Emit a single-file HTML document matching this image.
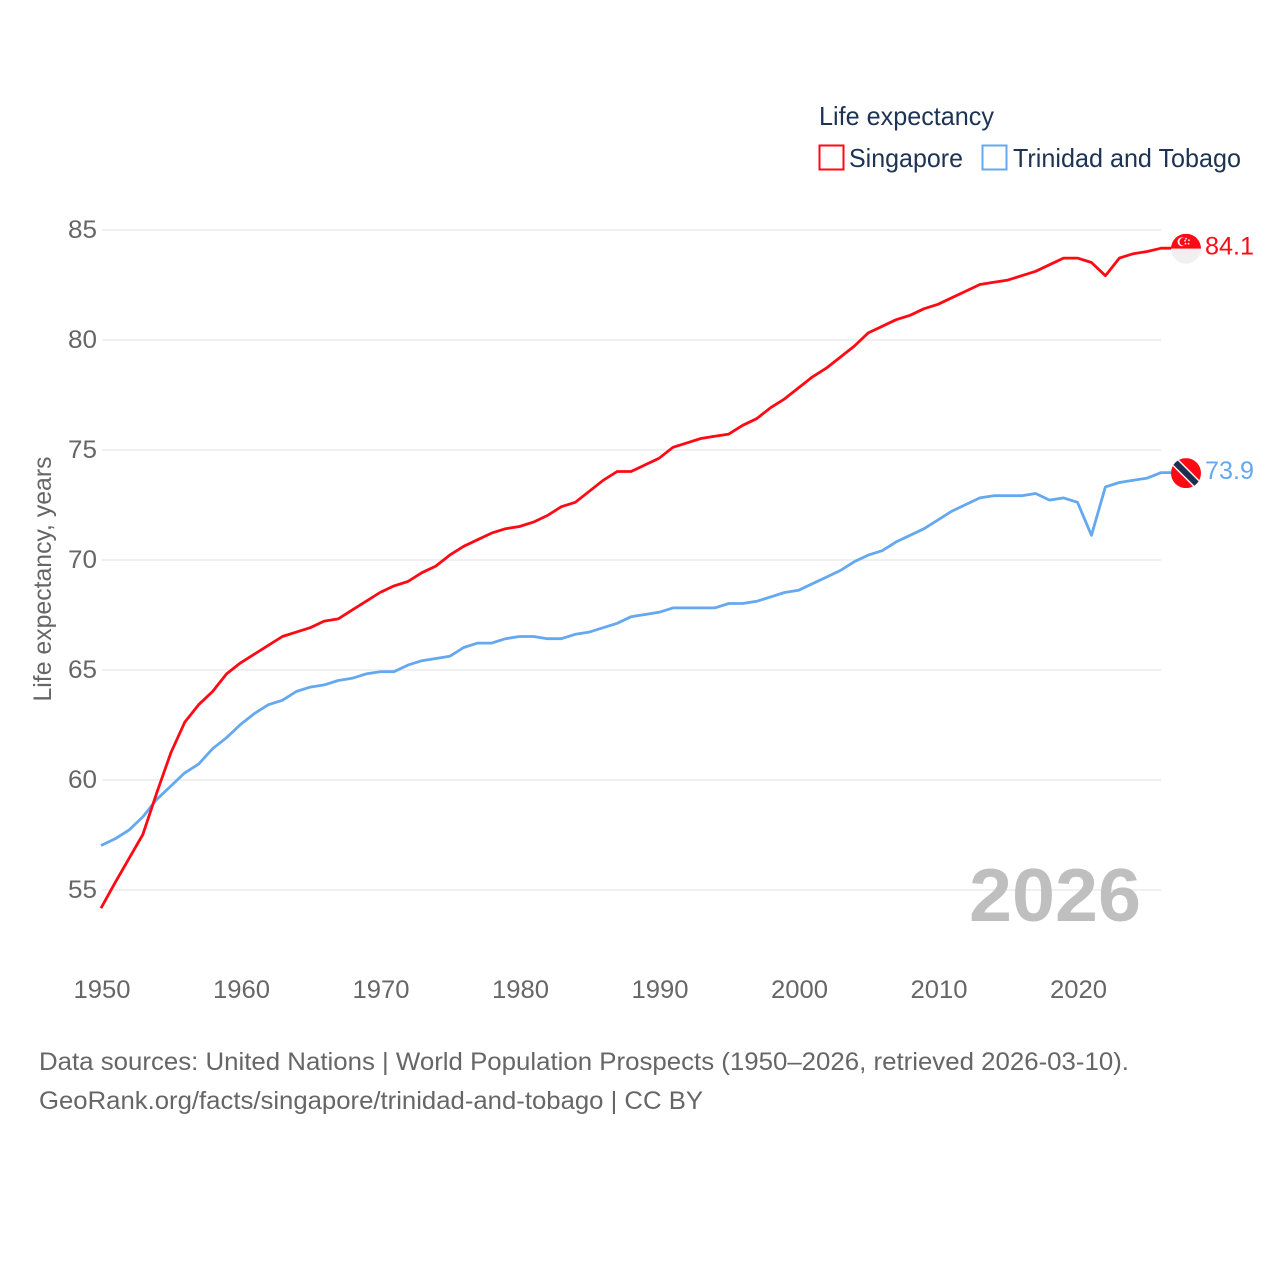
<!DOCTYPE html>
<html>
<head>
<meta charset="utf-8">
<title>Life expectancy: Singapore and Trinidad and Tobago</title>
<style>
html,body{margin:0;padding:0;background:#fff;width:1280px;height:1280px;overflow:hidden}
svg{display:block}
text{font-family:"Liberation Sans","DejaVu Sans",sans-serif}
</style>
</head>
<body>
<svg id="chart" width="1280" height="1280" viewBox="0 0 1280 1280" xmlns="http://www.w3.org/2000/svg">
<defs>
<clipPath id="flag-clip-sg"><circle cx="0" cy="0" r="15"/></clipPath>
<clipPath id="flag-clip-tt"><circle cx="0" cy="0" r="15"/></clipPath>
</defs>
<g id="grid"></g>
<g id="yticks"></g>
<g id="xticks"></g>
<text x="1055" y="921" font-size="75" font-weight="700" fill="#bfbfbf" text-anchor="middle" textLength="172" lengthAdjust="spacingAndGlyphs">2026</text>
<text transform="translate(51,579) rotate(-90)" font-size="25" fill="#666" text-anchor="middle" textLength="245" lengthAdjust="spacingAndGlyphs">Life expectancy, years</text>
<g id="series"></g>
<g id="flag-sg">
<g clip-path="url(#flag-clip-sg)">
<rect x="-15" y="-15" width="30" height="15" fill="#ff0a14"/>
<rect x="-15" y="0" width="30" height="15" fill="#f0f0f0"/>
<circle cx="-4" cy="-7" r="4.5" fill="#f0f0f0"/>
<circle cx="-2.5" cy="-7" r="4" fill="#ff0a14"/>
<circle cx="0" cy="-10" r="0.9" fill="#f0f0f0"/>
<circle cx="3" cy="-8.5" r="0.9" fill="#f0f0f0"/>
<circle cx="2.5" cy="-5" r="0.9" fill="#f0f0f0"/>
<circle cx="-0.5" cy="-5" r="0.9" fill="#f0f0f0"/>
<circle cx="-1" cy="-8" r="0.9" fill="#f0f0f0"/>
</g>
</g>
<g id="flag-tt">
<g clip-path="url(#flag-clip-tt)">
<rect x="-15" y="-15" width="30" height="30" fill="#ff0a14"/>
<line x1="-15" y1="-15" x2="15" y2="15" stroke="#f0f0f0" stroke-width="9"/>
<line x1="-15" y1="-15" x2="15" y2="15" stroke="#1c2f4f" stroke-width="6"/>
</g>
</g>
<g id="end-labels"></g>
<g>
<text x="819" y="125" font-size="26" fill="#1d3354" textLength="175" lengthAdjust="spacingAndGlyphs">Life expectancy</text>
<g>
<rect x="819.5" y="145.5" width="24" height="24" fill="none" stroke="#ff0a14" stroke-width="2"/>
<text x="849" y="167" font-size="26" fill="#1d3354" textLength="114" lengthAdjust="spacingAndGlyphs">Singapore</text>
</g>
<g>
<rect x="982.5" y="145.5" width="24" height="24" fill="none" stroke="#64a8f0" stroke-width="2"/>
<text x="1013" y="167" font-size="26" fill="#1d3354" textLength="228" lengthAdjust="spacingAndGlyphs">Trinidad and Tobago</text>
</g>
</g>
<g>
<text x="39" y="1070" font-size="25" fill="#666" textLength="1090" lengthAdjust="spacingAndGlyphs">Data sources: United Nations | World Population Prospects (1950–2026, retrieved 2026-03-10).</text>
<text x="39" y="1109" font-size="25" fill="#666" textLength="664" lengthAdjust="spacingAndGlyphs">GeoRank.org/facts/singapore/trinidad-and-tobago | CC BY</text>
</g>
</svg>
<script>
const years = [1950,1951,1952,1953,1954,1955,1956,1957,1958,1959,1960,1961,1962,1963,1964,1965,1966,1967,1968,1969,1970,1971,1972,1973,1974,1975,1976,1977,1978,1979,1980,1981,1982,1983,1984,1985,1986,1987,1988,1989,1990,1991,1992,1993,1994,1995,1996,1997,1998,1999,2000,2001,2002,2003,2004,2005,2006,2007,2008,2009,2010,2011,2012,2013,2014,2015,2016,2017,2018,2019,2020,2021,2022,2023,2024,2025,2026];
const singapore = [54.15,55.3,56.4,57.5,59.4,61.2,62.6,63.4,64.0,64.8,65.3,65.7,66.1,66.5,66.7,66.9,67.2,67.3,67.7,68.1,68.5,68.8,69.0,69.4,69.7,70.2,70.6,70.9,71.2,71.4,71.5,71.7,72.0,72.4,72.6,73.1,73.6,74.0,74.0,74.3,74.6,75.1,75.3,75.5,75.6,75.7,76.1,76.4,76.9,77.3,77.8,78.3,78.7,79.2,79.7,80.3,80.6,80.9,81.1,81.4,81.6,81.9,82.2,82.5,82.6,82.7,82.9,83.1,83.4,83.7,83.7,83.5,82.9,83.7,83.9,84.0,84.15];
const trinidad = [57.0,57.3,57.7,58.3,59.1,59.7,60.3,60.7,61.4,61.9,62.5,63.0,63.4,63.6,64.0,64.2,64.3,64.5,64.6,64.8,64.9,64.9,65.2,65.4,65.5,65.6,66.0,66.2,66.2,66.4,66.5,66.5,66.4,66.4,66.6,66.7,66.9,67.1,67.4,67.5,67.6,67.8,67.8,67.8,67.8,68.0,68.0,68.1,68.3,68.5,68.6,68.9,69.2,69.5,69.9,70.2,70.4,70.8,71.1,71.4,71.8,72.2,72.5,72.8,72.9,72.9,72.9,73.0,72.7,72.8,72.6,71.1,73.3,73.5,73.6,73.7,73.95];
const yTickValues = [55,60,65,70,75,80,85];
const xTickValues = [1950,1960,1970,1980,1990,2000,2010,2020];
const endLabels = ['84.1','73.9'];

const SVG_NS = 'http://www.w3.org/2000/svg';
function xScale(year){ return 102 + (year - 1950) * 13.95; }
function yScale(value){ return 230 + (85 - value) * 22; }
function make(tag, parentId){
  const el = document.createElementNS(SVG_NS, tag);
  document.getElementById(parentId).appendChild(el);
  return el;
}

yTickValues.forEach(function(v){
  const line = make('line', 'grid');
  
  
  line.setAttribute('x1', 102);
  line.setAttribute('x2', 1161);
  line.setAttribute('y1', yScale(v));
  line.setAttribute('y2', yScale(v));
  line.setAttribute('stroke', '#f0f0f0');
  line.setAttribute('stroke-width', 2);

  const label = make('text', 'yticks');
  
  
  label.setAttribute('x', 97);
  label.setAttribute('y', yScale(v) + 8);
  label.setAttribute('font-size', 25);
  label.setAttribute('fill', '#666');
  label.setAttribute('text-anchor', 'end');
  label.setAttribute('textLength', 29);
  label.setAttribute('lengthAdjust', 'spacingAndGlyphs');
  label.textContent = String(v);
});

xTickValues.forEach(function(y){
  const label = make('text', 'xticks');
  
  
  label.setAttribute('x', xScale(y));
  label.setAttribute('y', 998);
  label.setAttribute('font-size', 25);
  label.setAttribute('fill', '#666');
  label.setAttribute('text-anchor', 'middle');
  label.setAttribute('textLength', 57);
  label.setAttribute('lengthAdjust', 'spacingAndGlyphs');
  label.textContent = String(y);
});

function drawSeries(values, color, name){
  const lastY = yScale(values[values.length - 1]);
  const pts = values.map(function(v, i){ return (xScale(years[i]) - 1).toFixed(2) + ',' + (yScale(v) - 0.5).toFixed(2); });
  pts.push('1172,' + (lastY - 0.5).toFixed(2));
  const line = make('polyline', 'series');
  
  
  line.setAttribute('points', pts.join(' '));
  line.setAttribute('fill', 'none');
  line.setAttribute('stroke', color);
  line.setAttribute('stroke-width', 2.8);
  line.setAttribute('stroke-linejoin', 'round');
  return lastY;
}

const trinidadEnd = drawSeries(trinidad, '#64a8f0', 'trinidad-and-tobago-line');
const singaporeEnd = drawSeries(singapore, '#ff0a14', 'singapore-line');

document.getElementById('flag-sg').setAttribute('transform', 'translate(1186,' + singaporeEnd + ')');
document.getElementById('flag-tt').setAttribute('transform', 'translate(1186,' + trinidadEnd + ')');

const sgLabel = make('text', 'end-labels');


sgLabel.setAttribute('x', 1205);
sgLabel.setAttribute('y', singaporeEnd + 6);
sgLabel.setAttribute('font-size', 25);
sgLabel.setAttribute('fill', '#ff0a14');
sgLabel.setAttribute('textLength', 49);
sgLabel.setAttribute('lengthAdjust', 'spacingAndGlyphs');
sgLabel.textContent = endLabels[0];

const ttLabel = make('text', 'end-labels');


ttLabel.setAttribute('x', 1205);
ttLabel.setAttribute('y', trinidadEnd + 6);
ttLabel.setAttribute('font-size', 25);
ttLabel.setAttribute('fill', '#64a8f0');
ttLabel.setAttribute('textLength', 49);
ttLabel.setAttribute('lengthAdjust', 'spacingAndGlyphs');
ttLabel.textContent = endLabels[1];
</script>
</body>
</html>
